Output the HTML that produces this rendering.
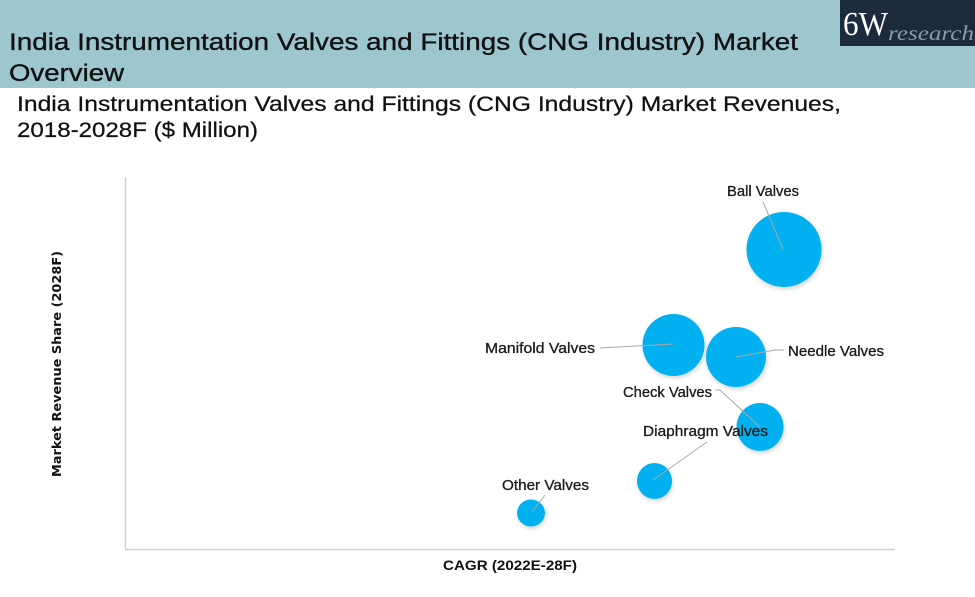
<!DOCTYPE html>
<html>
<head>
<meta charset="utf-8">
<style>
html,body{margin:0;padding:0;background:#fff;}
svg{display:block;}
</style>
</head>
<body>
<svg width="975" height="597" viewBox="0 0 975 597" xmlns="http://www.w3.org/2000/svg">
  <defs>
    <filter id="sh" x="-30%" y="-30%" width="160%" height="160%">
      <feDropShadow dx="1" dy="2" stdDeviation="2" flood-color="#000" flood-opacity="0.18"/>
    </filter>
  </defs>
  <rect x="0" y="0" width="975" height="597" fill="#ffffff"/>
  <!-- header band -->
  <rect x="0" y="0" width="975" height="88" fill="#9dc6cf"/>
  <!-- logo -->
  <rect x="840" y="0" width="135" height="46" fill="#1c2a3b"/>
  <text x="843" y="35" font-family="Liberation Serif, serif" font-size="34" fill="#ffffff" textLength="45" lengthAdjust="spacingAndGlyphs">6W</text>
  <text x="888" y="40" font-family="Liberation Serif, serif" font-style="italic" font-size="21" fill="#8a9aaa" textLength="86" lengthAdjust="spacingAndGlyphs">research</text>

  <!-- title -->
  <g font-family="Liberation Sans, sans-serif" fill="#111" stroke="#111" stroke-width="0.35">
    <text x="9" y="50" font-size="24.5" textLength="789" lengthAdjust="spacingAndGlyphs">India Instrumentation Valves and Fittings (CNG Industry) Market</text>
    <text x="9" y="81" font-size="24.5" textLength="115" lengthAdjust="spacingAndGlyphs">Overview</text>
  </g>

  <!-- subtitle -->
  <g font-family="Liberation Sans, sans-serif" fill="#111" stroke="#111" stroke-width="0.25">
    <text x="17" y="111" font-size="21" textLength="824" lengthAdjust="spacingAndGlyphs">India Instrumentation Valves and Fittings (CNG Industry) Market Revenues,</text>
    <text x="17" y="137" font-size="21" textLength="241" lengthAdjust="spacingAndGlyphs">2018-2028F ($ Million)</text>
  </g>

  <!-- axes -->
  <line x1="125.5" y1="177" x2="125.5" y2="549" stroke="#d0d0d0" stroke-width="1.5"/>
  <line x1="125" y1="549.5" x2="895" y2="549.5" stroke="#d0d0d0" stroke-width="1.5"/>

  <!-- axis labels -->
  <text transform="translate(61,364) rotate(-90)" text-anchor="middle" font-family="DejaVu Sans, sans-serif" font-weight="bold" font-size="12" fill="#111" textLength="226" lengthAdjust="spacingAndGlyphs">Market Revenue Share (2028F)</text>
  <text x="443" y="570" font-family="Liberation Sans, sans-serif" font-weight="bold" font-size="14" fill="#111" textLength="134" lengthAdjust="spacingAndGlyphs">CAGR (2022E-28F)</text>

  <!-- bubbles -->
  <g fill="#00b0f0" filter="url(#sh)">
    <circle cx="784" cy="249.5" r="37.5"/>
    <circle cx="673.5" cy="345" r="31"/>
    <circle cx="736" cy="357" r="30"/>
    <ellipse cx="760" cy="427" rx="23.5" ry="24"/>
    <ellipse cx="654.5" cy="481" rx="17.5" ry="18"/>
    <ellipse cx="531" cy="513" rx="14" ry="13.5"/>
  </g>

  <!-- leader lines -->
  <g stroke="#a8a8a8" stroke-width="1" fill="none">
    <line x1="763" y1="202" x2="783" y2="249"/>
    <line x1="600" y1="348" x2="673" y2="344"/>
    <polyline points="784,350 775,350 736,357"/>
    <polyline points="715,390 720,390 760,427"/>
    <line x1="707" y1="442" x2="653" y2="480"/>
    <line x1="545" y1="495" x2="532" y2="512"/>
  </g>

  <!-- bubble labels -->
  <g font-family="Liberation Sans, sans-serif" font-size="14.5" fill="#1a1a1a" stroke="#1a1a1a" stroke-width="0.3">
    <text x="727" y="196" textLength="72" lengthAdjust="spacingAndGlyphs">Ball Valves</text>
    <text x="485" y="353" textLength="110" lengthAdjust="spacingAndGlyphs">Manifold Valves</text>
    <text x="788" y="356" textLength="96" lengthAdjust="spacingAndGlyphs">Needle Valves</text>
    <text x="623" y="397" textLength="89" lengthAdjust="spacingAndGlyphs">Check Valves</text>
    <text x="643" y="436" textLength="125" lengthAdjust="spacingAndGlyphs">Diaphragm Valves</text>
    <text x="502" y="490" textLength="87" lengthAdjust="spacingAndGlyphs">Other Valves</text>
  </g>
</svg>
</body>
</html>
